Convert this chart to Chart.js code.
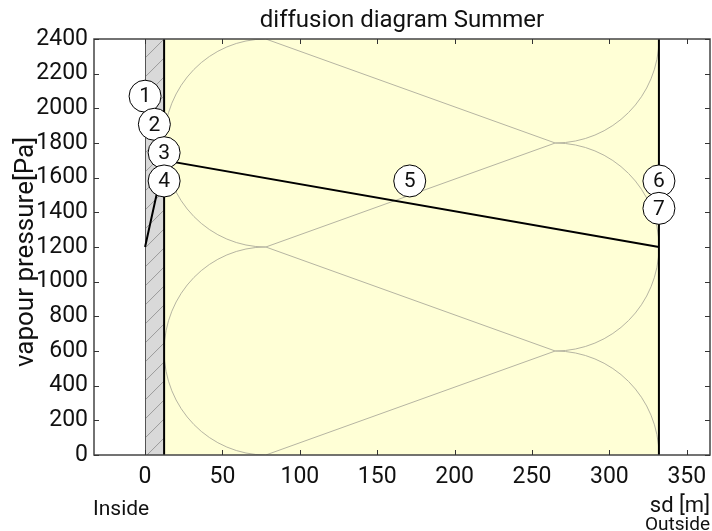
<!DOCTYPE html>
<html>
<head>
<meta charset="utf-8">
<script src="https://cdn.jsdelivr.net/npm/chart.js@4/dist/chart.umd.min.js"></script>
<style>
  html, body { margin: 0; padding: 0; background: #fff; }
  #wrap { width: 712px; height: 531px; }
</style>
</head>
<body>
<div id="wrap"><canvas id="c" width="712" height="531"></canvas></div>
<script>
// ---- data ----
const chartTitle = 'diffusion diagram Summer';
const yTitle = 'vapour pressure[Pa]';
const xTitle = 'sd [m]';
const insideLabel = 'Inside';
const outsideLabel = 'Outside';

const xTicks = [0, 50, 100, 150, 200, 250, 300, 350];
const yTicks = [0, 200, 400, 600, 800, 1000, 1200, 1400, 1600, 1800, 2000, 2200, 2400];

// layer boundaries (sd, m): wall from 0 to 12.3, insulation from 12.3 to 332
const wallX = [0, 12.3];
const insulationX = [12.3, 332];

// vapour pressure line
const pressureX = [0, 12.3, 332];
const pressureY = [1200, 1700, 1200];

// numbered markers
const markerLabels = ['1', '2', '3', '4', '5', '6', '7'];
const markerX = [0, 6, 12.3, 12.3, 171, 332, 332];
const markerY = [2070, 1908, 1744, 1581, 1581, 1581, 1423];

// insulation symbol (loops)
const loopLeftX = 78;
const loopRightX = 265;
const loopLeftCentersY = [1800, 600];
const loopRightCentersY = [2400, 1200, 0];
const loopHalfHeight = 600;

const FONT = 'Roboto, "Liberation Sans", sans-serif';

const decor = {
  id: 'decor',
  beforeDatasetsDraw(chart) {
    const {ctx, chartArea: a, scales: {x, y}} = chart;
    const X = v => x.getPixelForValue(v);
    const Y = v => y.getPixelForValue(v);
    const top = Y(2400), bot = Y(0);
    ctx.save();
    // insulation fill
    ctx.fillStyle = '#ffffd6';
    ctx.fillRect(X(insulationX[0]), top, X(insulationX[1]) - X(insulationX[0]), bot - top);
    // wall fill + hatch
    const wx0 = X(wallX[0]), wx1 = X(wallX[1]);
    ctx.fillStyle = '#d9d9d9';
    ctx.fillRect(wx0, top, wx1 - wx0, bot - top);
    ctx.save();
    ctx.beginPath();
    ctx.rect(wx0, top, wx1 - wx0, bot - top);
    ctx.clip();
    ctx.strokeStyle = '#9a9a9a';
    ctx.lineWidth = 1;
    const w = wx1 - wx0;
    for (let yy = bot + 2; yy > top - w - 20; yy -= 19) {
      ctx.beginPath();
      ctx.moveTo(wx0, yy);
      ctx.lineTo(wx1, yy - w);
      ctx.stroke();
    }
    ctx.restore();
    // insulation loops
    ctx.save();
    ctx.beginPath();
    ctx.rect(X(insulationX[0]), top, X(insulationX[1]) - X(insulationX[0]), bot - top);
    ctx.clip();
    ctx.strokeStyle = '#b6b5a2';
    ctx.lineWidth = 1;
    const ry = Math.abs(Y(0) - Y(loopHalfHeight));
    const rxL = X(loopLeftX) - X(insulationX[0]);
    const rxR = X(insulationX[1]) - X(loopRightX);
    loopLeftCentersY.forEach(cy => {
      ctx.beginPath();
      ctx.ellipse(X(loopLeftX), Y(cy), rxL, ry, 0, Math.PI / 2, Math.PI * 1.5);
      ctx.stroke();
    });
    loopRightCentersY.forEach(cy => {
      ctx.beginPath();
      ctx.ellipse(X(loopRightX), Y(cy), rxR, ry, 0, -Math.PI / 2, Math.PI / 2);
      ctx.stroke();
    });
    // tangent lines between left loop tops/bottoms and right loop cusps
    const seen = new Set();
    loopRightCentersY.forEach(cy => {
      [cy + loopHalfHeight, cy - loopHalfHeight].forEach(cusp => {
        if (cusp > 0 && cusp < 2400) {
          [cusp + loopHalfHeight, cusp - loopHalfHeight].forEach(end => {
            const k = end + '_' + cusp;
            if (end < 0 || end > 2400 || seen.has(k)) return;
            seen.add(k);
            ctx.beginPath();
            ctx.moveTo(X(loopLeftX), Y(end));
            ctx.lineTo(X(loopRightX), Y(cusp));
            ctx.stroke();
          });
        }
      });
    });
    ctx.restore();
    // boundary lines
    ctx.strokeStyle = '#555';
    ctx.lineWidth = 1;
    ctx.beginPath();
    ctx.moveTo(Math.round(wx0) + 0.5, top);
    ctx.lineTo(Math.round(wx0) + 0.5, bot);
    ctx.stroke();
    ctx.strokeStyle = '#000';
    ctx.lineWidth = 2;
    [insulationX[0], insulationX[1]].forEach(v => {
      ctx.beginPath();
      ctx.moveTo(X(v), top);
      ctx.lineTo(X(v), bot);
      ctx.stroke();
    });
    ctx.restore();
  },
  afterDatasetsDraw(chart) {
    const {ctx, chartArea: a, scales: {x, y}} = chart;
    const X = v => x.getPixelForValue(v);
    const Y = v => y.getPixelForValue(v);
    ctx.save();
    // marker numbers
    ctx.fillStyle = '#111';
    ctx.font = '21px ' + FONT;
    ctx.textAlign = 'center';
    ctx.textBaseline = 'middle';
    markerLabels.forEach((t, i) => {
      ctx.fillText(t, X(markerX[i]), Y(markerY[i]) + 1);
    });
    // frame
    ctx.strokeStyle = '#444';
    ctx.lineWidth = 1.5;
    ctx.strokeRect(a.left, a.top, a.right - a.left, a.bottom - a.top);
    // inward ticks
    ctx.lineWidth = 1;
    ctx.strokeStyle = '#333';
    const tl = 5;
    xTicks.forEach(v => {
      const px = Math.round(X(v)) + 0.5;
      ctx.beginPath();
      ctx.moveTo(px, a.bottom); ctx.lineTo(px, a.bottom - tl);
      ctx.moveTo(px, a.top); ctx.lineTo(px, a.top + tl);
      ctx.stroke();
    });
    yTicks.forEach(v => {
      const py = Math.round(Y(v)) + 0.5;
      ctx.beginPath();
      ctx.moveTo(a.left, py); ctx.lineTo(a.left + tl, py);
      ctx.moveTo(a.right, py); ctx.lineTo(a.right - tl, py);
      ctx.stroke();
    });
    // texts
    ctx.fillStyle = '#111';
    ctx.textBaseline = 'alphabetic';
    ctx.font = '24px ' + FONT;
    ctx.textAlign = 'center';
    ctx.fillText(chartTitle, (a.left + a.right) / 2, 27);
    ctx.textAlign = 'right';
    ctx.font = '22px ' + FONT;
    ctx.fillText(xTitle, 710, 512);
    ctx.font = '19px ' + FONT;
    ctx.fillText(outsideLabel, 710, 530);
    ctx.textAlign = 'left';
    ctx.font = '21px ' + FONT;
    ctx.fillText(insideLabel, 93, 515);
    ctx.save();
    ctx.translate(33, 252);
    ctx.rotate(-Math.PI / 2);
    ctx.textAlign = 'center';
    ctx.font = '26px ' + FONT;
    ctx.fillText(yTitle, 0, 0);
    ctx.restore();
    ctx.restore();
  }
};

new Chart(document.getElementById('c'), {
  type: 'scatter',
  data: {
    datasets: [
      {
        label: 'markers',
        data: markerX.map((v, i) => ({x: v, y: markerY[i]})),
        pointRadius: 16,
        pointHoverRadius: 16,
        pointBackgroundColor: '#fff',
        pointBorderColor: '#000',
        pointBorderWidth: 1,
        showLine: false,
        clip: false,
        order: 1
      },
      {
        label: 'pressure',
        data: pressureX.map((v, i) => ({x: v, y: pressureY[i]})),
        showLine: true,
        borderColor: '#000',
        borderWidth: 2,
        pointRadius: 0,
        fill: false,
        order: 2
      }
    ]
  },
  options: {
    responsive: false,
    animation: false,
    devicePixelRatio: 1,
    layout: { autoPadding: false, padding: { left: 0, right: 2, top: 39, bottom: 0 } },
    plugins: { legend: { display: false }, tooltip: { enabled: false }, title: { display: false } },
    scales: {
      x: {
        type: 'linear',
        min: -33,
        max: 365,
        grid: { display: false, drawTicks: false },
        border: { display: false },
        afterBuildTicks: s => { s.ticks = xTicks.map(v => ({value: v})); },
        afterFit: s => { s.height = 76; s.paddingLeft = 0; s.paddingRight = 0; },
        ticks: { color: '#111', font: { family: FONT, size: 23 }, padding: 8, maxRotation: 0, callback: v => String(v) }
      },
      y: {
        type: 'linear',
        min: 0,
        max: 2400,
        grid: { display: false, drawTicks: false },
        border: { display: false },
        afterBuildTicks: s => { s.ticks = yTicks.map(v => ({value: v})); },
        afterFit: s => { s.width = 94; s.paddingTop = 0; s.paddingBottom = 0; },
        ticks: { color: '#111', font: { family: FONT, size: 23 }, padding: 6, callback: v => String(v) }
      }
    }
  },
  plugins: [decor]
});
</script>
</body>
</html>
